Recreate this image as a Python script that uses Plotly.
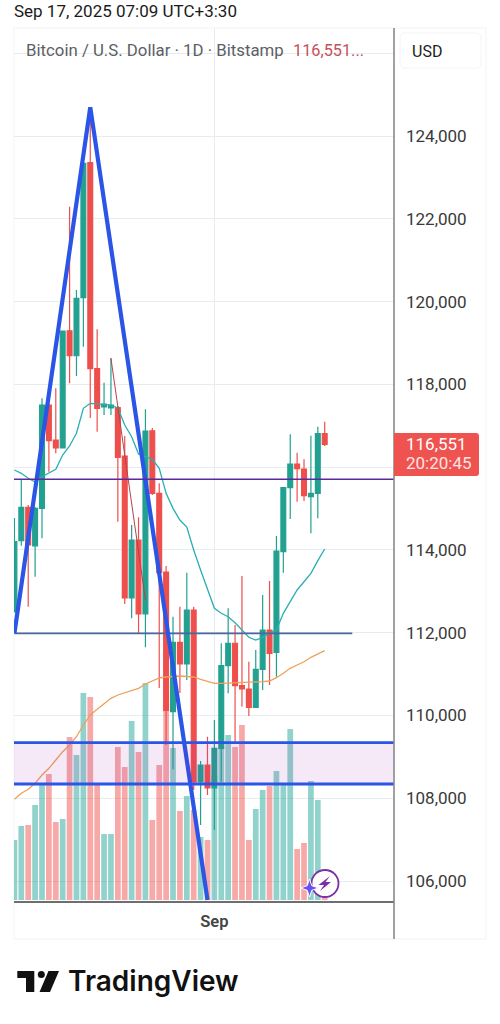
import pandas as pd
import plotly.graph_objects as go

# ---- data (daily BTC/USD, Bitstamp) ----
first_day = "2025-08-03"
opens = [112500,114223,115030,114095,115005,117501,116656,116463,119296,118692,120094,123355,118379,117453,117429,
         117436,116269,112839,114240,112452,116880,115368,113466,110092,111768,111244,112548,108393,108804,108248,
         109207,111203,111745,110720,110640,110198,111116,112065,111527,113958,115503,116076,115955,115286,115368,116808]
closes = [114199,115030,114119,115005,117501,116639,116463,119289,118692,120079,123341,118379,117422,117526,117501,
          116238,112839,114240,112452,116873,115368,113450,110108,111768,111244,112548,108393,108804,108248,109207,
          111203,111745,110720,110640,110198,111116,112065,111502,113974,115503,116076,115962,115310,115368,116808,116551]
highs = [114771,115690,115085,115045,117663,117550,117905,119289,122292,120280,123541,124677,119330,118040,118637,
         117480,116752,114602,114788,117398,116946,115610,113611,112387,112628,113450,112628,108900,109488,109891,
         111745,112589,112186,113370,111299,111582,112911,113249,114336,115503,116793,116349,116190,116760,116977,117098]
lows = [112500,114102,112628,113353,114281,115890,116335,116463,118025,118202,118910,117187,116856,117260,117260,
        114682,112694,112348,111985,111647,115327,110664,109287,108700,110543,110857,108200,107355,108079,107233,
        108400,110536,109367,110212,109988,110198,110616,110737,110937,113450,114747,115165,115182,114402,114764,116512]
volume = [600,740,750,950,1150,1260,780,810,1630,1450,2070,2030,1170,660,660,1530,1330,1790,1480,2170,800,1350,1880,
          1520,890,1040,900,630,600,1250,1530,1650,1530,1750,600,910,1100,1140,1290,1170,1710,510,570,1190,1000,80]
ema_fast = [115931,115851,115730,115641,115769,115866,115948,116293,116511,116818,117422,117542,117525,117518,117501,
            117429,117018,116735,116317,116252,116189,115972,115368,115005,114723,114554,113998,113515,113032,112590,
            112469,112387,112242,112065,111889,111824,111889,111985,112065,112469,112749,113032,113232,113435,113740,114022]
ema_slow = [107975,108120,108217,108361,108562,108724,108924,109125,109287,109487,109770,110012,110149,110277,110415,
            110495,110550,110616,110657,110761,110833,110906,110930,110942,110954,110942,110930,110870,110821,110778,
            110778,110785,110785,110792,110792,110802,110817,110833,110913,111019,111140,111220,111299,111406,111486,111565]
zigzag_x = ["2025-08-03", "2025-08-14", "2025-08-31"]
zigzag_y = [111985, 124694, 105542]
trend_x = ["2025-08-17", "2025-08-22"]
trend_y = [118629, 112790]
level_low_x = ["2025-08-03", "2025-09-21"]
level_low = 111985
level_mid = 115706
band_low, band_high = 108345, 109343
price_ticks = [106000,108000,110000,112000,114000,116000,118000,120000,122000,124000,126000]
price_labels = ["106,000","108,000","110,000","112,000","114,000","","118,000","120,000","122,000","124,000",""]
title_text = "Sep 17, 2025 07:09 UTC+3:30"
header_text = "Bitcoin / U.S. Dollar · 1D · Bitstamp"
header_price = "116,551..."
last_price = "116,551"
countdown = "20:20:45"

dates = pd.date_range(first_day, periods=len(opens), freq="D")

# ---- page geometry ----
W, H = 500, 1024
L, R, T, B = 14, 394, 28, 901
def px(x): return (x - L) / (R - L)
def py(y): return (B - y) / (B - T)
def path(*cmds):
    out = []
    for c in cmds:
        if c == "Z":
            out.append("Z")
        else:
            out.append(f"{c[0]}{px(c[1]):.5f},{py(c[2]):.5f}")
    return " ".join(out)
def rrect(x0, y0, x1, y1, r, left=True):
    d = (f"M{px(x0 + (r if left else 0)):.5f},{py(y0):.5f} L{px(x1 - r):.5f},{py(y0):.5f} "
         f"Q{px(x1):.5f},{py(y0):.5f} {px(x1):.5f},{py(y0 + r):.5f} L{px(x1):.5f},{py(y1 - r):.5f} "
         f"Q{px(x1):.5f},{py(y1):.5f} {px(x1 - r):.5f},{py(y1):.5f} L{px(x0 + (r if left else 0)):.5f},{py(y1):.5f} ")
    if left:
        d += (f"Q{px(x0):.5f},{py(y1):.5f} {px(x0):.5f},{py(y1 - r):.5f} L{px(x0):.5f},{py(y0 + r):.5f} "
              f"Q{px(x0):.5f},{py(y0):.5f} {px(x0 + r):.5f},{py(y0):.5f} ")
    else:
        d += f"L{px(x0):.5f},{py(y0):.5f} "
    return d + "Z"

GREEN, RED = "#22a191", "#ee4f4c"
FONT = "Roboto"

fig = go.Figure()
bar_colors = ["rgba(239,83,80,0.5)" if c < o else "rgba(38,166,154,0.5)" for o, c in zip(opens, closes)]
fig.add_trace(go.Bar(x=dates, y=volume, marker=dict(color=bar_colors, line_width=0), yaxis="y", hoverinfo="skip"))
fig.add_trace(go.Scatter(x=dates, y=ema_slow, mode="lines", line=dict(color="#eda15a", width=1.3), yaxis="y2", hoverinfo="skip"))
fig.add_trace(go.Scatter(x=dates, y=ema_fast, mode="lines", line=dict(color="#2aaeb4", width=1.3), yaxis="y2", hoverinfo="skip"))
fig.add_trace(go.Candlestick(x=dates, open=opens, high=highs, low=lows, close=closes, yaxis="y2",
                             increasing=dict(line=dict(color=GREEN, width=1.2), fillcolor=GREEN),
                             decreasing=dict(line=dict(color=RED, width=1.2), fillcolor=RED),
                             whiskerwidth=0, hoverinfo="skip"))
fig.add_trace(go.Scatter(x=trend_x, y=trend_y, mode="lines", line=dict(color="#b5404e", width=1), yaxis="y2", hoverinfo="skip"))
fig.add_trace(go.Scatter(x=level_low_x, y=[level_low, level_low], mode="lines", line=dict(color="#4a679e", width=1.6), yaxis="y2", hoverinfo="skip"))
fig.add_trace(go.Scatter(x=zigzag_x, y=zigzag_y, mode="lines", line=dict(color="#2a55e6", width=4.2), yaxis="y2", hoverinfo="skip"))

shapes = [
    # drawn price levels and band
    dict(type="line", xref="paper", x0=0, x1=1, yref="y2", y0=level_mid, y1=level_mid, line=dict(color="#5a2a9e", width=1.5), layer="above"),
    dict(type="rect", xref="paper", x0=0, x1=1, yref="y2", y0=band_low, y1=band_high, fillcolor="rgba(156,39,176,0.10)", line_width=0, layer="above"),
    dict(type="line", xref="paper", x0=0, x1=1, yref="y2", y0=band_high, y1=band_high, line=dict(color="#2a55e6", width=2.8), layer="above"),
    dict(type="line", xref="paper", x0=0, x1=1, yref="y2", y0=band_low, y1=band_low, line=dict(color="#2a55e6", width=2.8), layer="above"),
    # outer frame and right axis line
    dict(type="rect", xref="paper", yref="paper", x0=px(14), x1=px(486), y0=py(28), y1=py(939), line=dict(color="#f0f3f6", width=1), layer="below"),
    dict(type="line", xref="paper", yref="paper", x0=1, x1=1, y0=py(28), y1=py(939), line=dict(color="#8a8a8e", width=1.6), layer="above"),
    # price tag and currency button
    dict(type="path", xref="paper", yref="paper", path=rrect(394, 433, 479, 476, 3, left=False), fillcolor="#ee5350", line_width=0, layer="above"),
    dict(type="path", xref="paper", yref="paper", path=rrect(400, 33, 481, 68, 5), fillcolor="white", line=dict(color="#f3f4f6", width=1), layer="above"),
    # badge
    dict(type="circle", xref="paper", yref="paper", x0=px(311.5), x1=px(338.5), y0=py(870), y1=py(897), fillcolor="white", line=dict(color="#7b2fa8", width=1.8), layer="above"),
    dict(type="path", xref="paper", yref="paper", path=path(("M",330,876),("L",318.5,885),("L",324,885),("L",320,891),("L",331,882),("L",325.5,882),"Z"), fillcolor="#7b2fa8", line_width=0, layer="above"),
    dict(type="path", xref="paper", yref="paper", path=path(("M",309.5,879),("L",311.8,885.7),("L",318.5,888),("L",311.8,890.3),("L",309.5,897),("L",307.2,890.3),("L",300.5,888),("L",307.2,885.7),"Z"), fillcolor="#6a4ff0", line=dict(color="white", width=1), layer="above"),
    # TradingView logo mark
    dict(type="path", xref="paper", yref="paper", path=path(("M",17.3,971),("L",34.3,971),("L",34.3,992),("L",26,992),("L",26,978),("L",17.3,978),"Z"), fillcolor="#111", line_width=0, layer="above"),
    dict(type="circle", xref="paper", yref="paper", x0=px(37.8), x1=px(44.8), y0=py(971), y1=py(978), fillcolor="#111", line_width=0, layer="above"),
    dict(type="path", xref="paper", yref="paper", path=path(("M",48.5,971),("L",59,971),("L",50,992),("L",39.5,992),"Z"), fillcolor="#111", line_width=0, layer="above"),
]

def note(x, y, text, size, color, weight=400, family=FONT):
    return dict(xref="paper", yref="paper", x=px(x), y=py(y), text=text, showarrow=False, xanchor="left", yanchor="middle",
                font=dict(family=family, size=size, color=color, weight=weight), borderpad=0, borderwidth=0)

annotations = [
    note(14, 11, title_text, 17, "#1a1a1a"),
    note(26, 50, header_text, 16.8, "#5c5f66"),
    note(292.5, 50, header_price, 16.3, "#c5505a"),
    note(412, 51, "USD", 16, "#222222"),
    note(406, 444, last_price, 17, "#ffffff"),
    note(406, 463, countdown, 17, "#ffe3e2"),
    note(68, 981, "TradingView", 28, "#111111", weight=600, family="Inter"),
]

fig.update_layout(
    width=W, height=H, autosize=False,
    margin=dict(l=L, r=W - R, t=T, b=H - B, pad=0),
    paper_bgcolor="white", plot_bgcolor="white",
    showlegend=False, bargap=0.17, boxgap=0.3, boxgroupgap=0, hovermode=False,
    shapes=shapes, annotations=annotations,
    xaxis=dict(type="date", range=["2025-08-02 22:33", "2025-09-27 01:12"], rangeslider=dict(visible=False),
               tickmode="array", tickvals=["2025-09-01"], ticktext=["Sep"], ticks="",
               tickfont=dict(family=FONT, size=16.5, color="#444444", weight=600), ticklabelstandoff=5,
               showgrid=True, gridcolor="#e7ecf0", gridwidth=1, zeroline=False,
               showline=True, linecolor="#6e6e72", linewidth=1.6, fixedrange=True),
    yaxis=dict(range=[-10, 8720], visible=False, showgrid=False, zeroline=False, fixedrange=True),
    yaxis2=dict(overlaying="y", side="right", anchor="x", range=[105518, 126610],
                tickmode="array", tickvals=price_ticks, ticktext=price_labels, ticks="",
                tickfont=dict(family=FONT, size=17, color="#3a3a3a"), ticklabelstandoff=11,
                showgrid=True, gridcolor="#e7ecf0", gridwidth=1, zeroline=False, showline=False, fixedrange=True),
)

fig.write_html("out.html", config={"displayModeBar": False, "staticPlot": True},
               post_script="document.body.style.margin='0';document.documentElement.style.overflow='hidden';")
